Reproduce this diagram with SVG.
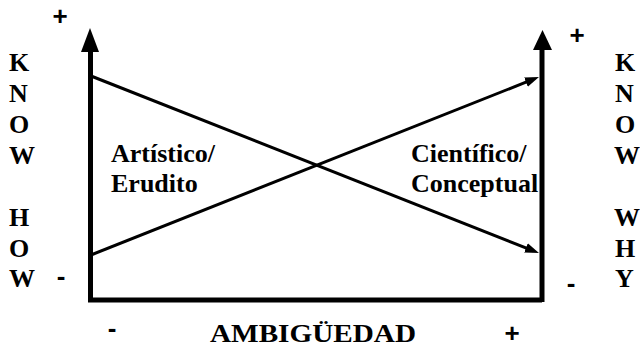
<svg xmlns="http://www.w3.org/2000/svg" width="640" height="348" viewBox="0 0 640 348">
<style>
.lbl{font-family:"Liberation Serif","Times New Roman",serif;font-weight:bold;font-size:26px;fill:#000}
.sign{font-family:"Liberation Sans",Arial,sans-serif;font-weight:bold;font-size:26px;fill:#000;text-anchor:middle}
.axis{stroke:#000;stroke-width:5;fill:none}
.diag{stroke:#000;stroke-width:3;fill:none}
</style>
<defs>
<marker id="ah" markerUnits="userSpaceOnUse" markerWidth="16" markerHeight="12" refX="8" refY="5" orient="auto">
<path d="M0,0 L14,5 L0,10 z" fill="#000"/>
</marker>
</defs>
<g id="axes">
<path class="axis" d="M90.5,50 V300 H542 M542,48 V302"/>
<polygon points="90,28 81,52 99,52" fill="#000"/>
<polygon points="542.5,30 533,50 552,50" fill="#000"/>
</g>
<g id="connectors">
<line class="diag" x1="91" y1="76" x2="533.4" y2="250.8" marker-end="url(#ah)"/>
<line class="diag" x1="91" y1="255" x2="533.4" y2="79.2" marker-end="url(#ah)"/>
</g>
<g id="know-how">
<text class="lbl" x="9" y="71">K</text>
<text class="lbl" x="9" y="102">N</text>
<text class="lbl" x="9" y="133">O</text>
<text class="lbl" x="9" y="164">W</text>
<text class="lbl" x="9" y="226">H</text>
<text class="lbl" x="9" y="257">O</text>
<text class="lbl" x="9" y="287">W</text>
</g>
<g id="know-why">
<text class="lbl" x="615" y="71">K</text>
<text class="lbl" x="615" y="102">N</text>
<text class="lbl" x="615" y="133">O</text>
<text class="lbl" x="614" y="164">W</text>
<text class="lbl" x="614" y="226">W</text>
<text class="lbl" x="615" y="257">H</text>
<text class="lbl" x="615" y="287">Y</text>
</g>
<g id="artistico">
<text class="lbl" x="111" y="162">Artístico/</text>
<text class="lbl" x="111" y="192">Erudito</text>
</g>
<g id="cientifico">
<text class="lbl" x="411" y="162">Científico/</text>
<text class="lbl" x="411" y="192">Conceptual</text>
</g>
<g id="ambiguedad">
<text class="lbl" x="210" y="342" font-size="28" textLength="206" lengthAdjust="spacingAndGlyphs">AMBIGÜEDAD</text>
</g>
<g id="signs">
<text class="sign" x="60" y="25">+</text>
<text class="sign" x="577" y="44">+</text>
<text class="sign" x="61" y="285">-</text>
<text class="sign" x="571" y="292">-</text>
<text class="sign" x="112" y="337">-</text>
<text class="sign" x="512" y="342">+</text>
</g>
</svg>
